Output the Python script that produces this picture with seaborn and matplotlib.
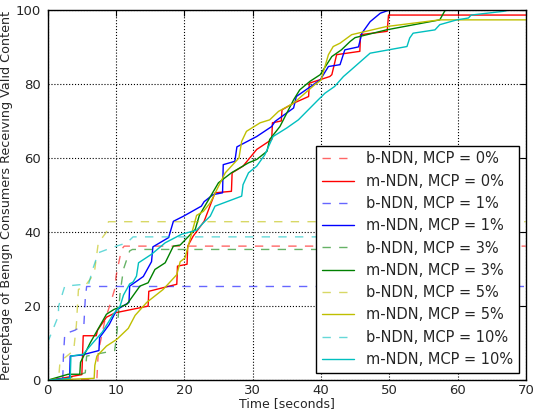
import matplotlib
matplotlib.use("Agg")
import matplotlib.pyplot as plt
import seaborn as sns
import pandas as pd

# ---- data ----
b0_x = [0, 7.2, 7.4, 8.4, 8.9, 9.8, 10.0, 10.8, 11.2, 70]
b0_y = [0, 0.3, 7.5, 16.4, 19.1, 24.5, 28, 35.3, 36.2, 36.2]
m0_x = [0, 2, 5.0, 5.2, 7.1, 7.3, 8.6, 9.9, 14.7, 14.8, 18.9, 19.0, 20.4, 20.5, 21.3, 22.9, 24.5, 26.9, 27.0,
        28.6, 30.6, 32.8, 32.9, 34.2, 34.3, 36.0, 38.2, 38.3, 41.3, 41.6, 42.3, 45.7, 45.8, 49.7, 49.9, 70]
m0_y = [0, 0.5, 1.5, 12, 12, 13.5, 17, 18.2, 20, 24, 25.9, 30.8, 31.3, 36.2, 38.9, 42.9, 50.6, 51, 56,
        57.8, 62.3, 65, 69.5, 70, 73, 74.8, 76.6, 80.2, 82, 82.5, 87.9, 88.8, 93.3, 94.2, 98.6, 98.6]
b1_x = [0, 2.2, 2.3, 2.5, 4.0, 5.3, 5.5, 5.7, 70]
b1_y = [0, 0, 6.5, 12.5, 13.5, 15, 22, 25.3, 25.3]
m1_x = [0, 3.2, 3.3, 5.0, 7.5, 7.6, 9.0, 10.1, 11.9, 12.0, 14.0, 15.2, 15.4, 17.7, 18.4, 19.9, 22.5, 22.9,
        24.2, 25.6, 25.7, 27.4, 27.7, 30.6, 32.8, 33.3, 36.0, 36.4, 39.9, 41.1, 42.8, 43.5, 45.5, 46.0, 47.2,
        48.7, 50.1, 70]
m1_y = [0, 0.5, 6.5, 6.8, 8, 11.5, 15, 19, 21, 25.4, 28, 32, 36, 38.5, 42.9, 44.3, 47, 48.2,
        50.1, 50.6, 58.2, 59.1, 63, 65.8, 68.5, 69.9, 73.5, 76.6, 81.1, 84.7, 85.2, 89.2, 90, 93.7, 96.8,
        99.1, 100, 100]
b3_x = [0, 3.0, 5.5, 5.7, 9.8, 10.1, 10.6, 11.1, 12.0, 12.4, 70]
b3_y = [0, 0.5, 2, 6.5, 8, 12, 23.6, 30, 34.9, 35.3, 35.3]
m3_x = [0, 3.0, 4.7, 4.8, 6.2, 8.6, 9.7, 11.6, 13.5, 14.7, 15.7, 17.2, 18.4, 19.4, 21.6, 22.2, 23.0, 25.0,
        26.9, 29.4, 30.6, 32.1, 32.5, 34.0, 36.0, 36.9, 38.4, 39.9, 41.6, 43.0, 44.3, 45.0, 49.6, 57.4,
        58.1, 58.3, 70]
m3_y = [0, 1.6, 1.6, 4.8, 10, 17.8, 19.1, 20.5, 25.4, 26.3, 29.9, 31.7, 36.2, 36.5, 40.7, 44.5, 47, 53.3,
        56, 58.7, 59.6, 61.8, 65, 68.5, 75.7, 78.4, 80.7, 82.5, 87.4, 89.2, 91.5, 92.5, 94.6, 97.3,
        99.6, 100, 100]
b5_x = [0, 1.6, 1.8, 3.8, 4.2, 4.5, 5.5, 6.5, 6.9, 7.4, 8.6, 8.9, 70]
b5_y = [0, 0.5, 5, 8, 15, 24.5, 25.5, 28, 30, 37, 40, 42.8, 42.8]
m5_x = [0, 6.8, 6.9, 7.2, 8.6, 10.1, 11.8, 12.8, 14.5, 16.9, 18.4, 18.9, 19.4, 20.1, 21.1, 21.8, 22.8,
        23.8, 26.0, 28.0, 28.4, 29.1, 31.1, 32.5, 33.8, 36.0, 39.1, 40.0, 41.1, 41.8, 42.8, 44.5, 49.6,
        57.4, 70]
m5_y = [0, 0.5, 4, 6.5, 9.2, 11, 14, 17.5, 21, 24.5, 27.5, 28.5, 32, 33, 39.8, 44.5, 45.6,
        47.9, 56, 60, 64.5, 67.2, 69.5, 70.3, 72.6, 74.8, 79.8, 81, 87.9, 90.1, 91, 93.3, 95.5,
        97.3, 97.3]
b10_x = [0, 1.55, 1.6, 2.5, 6.0, 6.6, 7.4, 9.4, 11.6, 12.5, 70]
b10_y = [10.2, 17.3, 20, 25.4, 26, 30, 34.4, 35.8, 37.1, 38.7, 38.7]
m10_x = [0, 3.3, 3.4, 5.2, 6.2, 8.0, 9.6, 10.6, 11.1, 12.0, 12.5, 13.0, 13.3, 15.2, 17.2, 19.6, 21.8,
         22.8, 23.8, 24.5, 28.4, 28.6, 29.4, 30.6, 31.8, 33.0, 35.0, 36.7, 39.6, 40.6, 42.0, 43.3, 44.3,
         47.2, 52.6, 53.0, 53.5, 56.7, 57.4, 59.9, 61.6, 62.0, 66.7, 67.7, 70]
m10_y = [0, 0.5, 6.5, 7, 9.2, 13, 17.8, 20, 23, 26, 26.5, 28.1, 31.7, 34, 37.1, 39.4, 40.5,
         42.5, 44.3, 47, 49.7, 52.8, 56, 57.8, 60.9, 65.8, 68.1, 70.3, 75.7, 77.5, 79.3, 82, 83.6,
         88.3, 90.1, 92.4, 93.7, 94.6, 96, 97.3, 97.8, 98.6, 99.6, 100, 100]

labels = ["b-NDN, MCP = 0%", "m-NDN, MCP = 0%", "b-NDN, MCP = 1%", "m-NDN, MCP = 1%",
          "b-NDN, MCP = 3%", "m-NDN, MCP = 3%", "b-NDN, MCP = 5%", "m-NDN, MCP = 5%",
          "b-NDN, MCP = 10%", "m-NDN, MCP = 10%"]
series = [(b0_x, b0_y), (m0_x, m0_y), (b1_x, b1_y), (m1_x, m1_y), (b3_x, b3_y), (m3_x, m3_y),
          (b5_x, b5_y), (m5_x, m5_y), (b10_x, b10_y), (m10_x, m10_y)]
colors = ["#ff0000", "#ff0000", "#0000ff", "#0000ff", "#008000", "#008000",
          "#bfbf00", "#bfbf00", "#00bfbf", "#00bfbf"]
x_ticks = [0, 10, 20, 30, 40, 50, 60, 70]
y_ticks = [0, 20, 40, 60, 80, 100]

# ---- style ----
sns.set_style("white")
plt.rcParams["font.family"] = ["DejaVu Sans"]
plt.rcParams["xtick.direction"] = "in"
plt.rcParams["ytick.direction"] = "in"

fig = plt.figure(figsize=(5.36, 4.11), dpi=100)
ax = fig.add_axes([0.089, 0.075, 0.892, 0.901])

for i, ((xs, ys), lab, col) in enumerate(zip(series, labels, colors)):
    df = pd.DataFrame({"x": xs, "y": ys})
    dashed = (i % 2 == 0)
    sns.lineplot(data=df, x="x", y="y", ax=ax, color=col, label=lab, sort=False,
                 estimator=None, linewidth=1.0, alpha=0.6 if dashed else 1.0)
    if dashed:
        ax.lines[-1].set_dashes((6, 6))

ax.set_xlim(0, 70)
ax.set_ylim(0, 100)
ax.set_xticks(x_ticks)
ax.set_yticks(y_ticks)
ax.tick_params(axis="both", which="both", direction="in", top=True, right=True,
               length=4, width=0.8, labelsize=9.5, color="black", pad=5)
ax.tick_params(axis="x", pad=3)
ax.grid(True, linestyle=":", color="black", linewidth=0.8)
for s in ax.spines.values():
    s.set_color("black")
    s.set_linewidth(1.0)
ax.set_xlabel("Time [seconds]", fontsize=9.0, labelpad=0)
ax.set_ylabel("Perceptage of Benign Consumers Receiving Valid Content", fontsize=9.2, labelpad=2)

leg = ax.legend(loc="lower right", fontsize=10.5, frameon=True, fancybox=False,
                framealpha=1, edgecolor="black", handlelength=2.2, borderaxespad=0.5)
leg.get_frame().set_linewidth(1.0)

fig.savefig("out.png", dpi=100)
